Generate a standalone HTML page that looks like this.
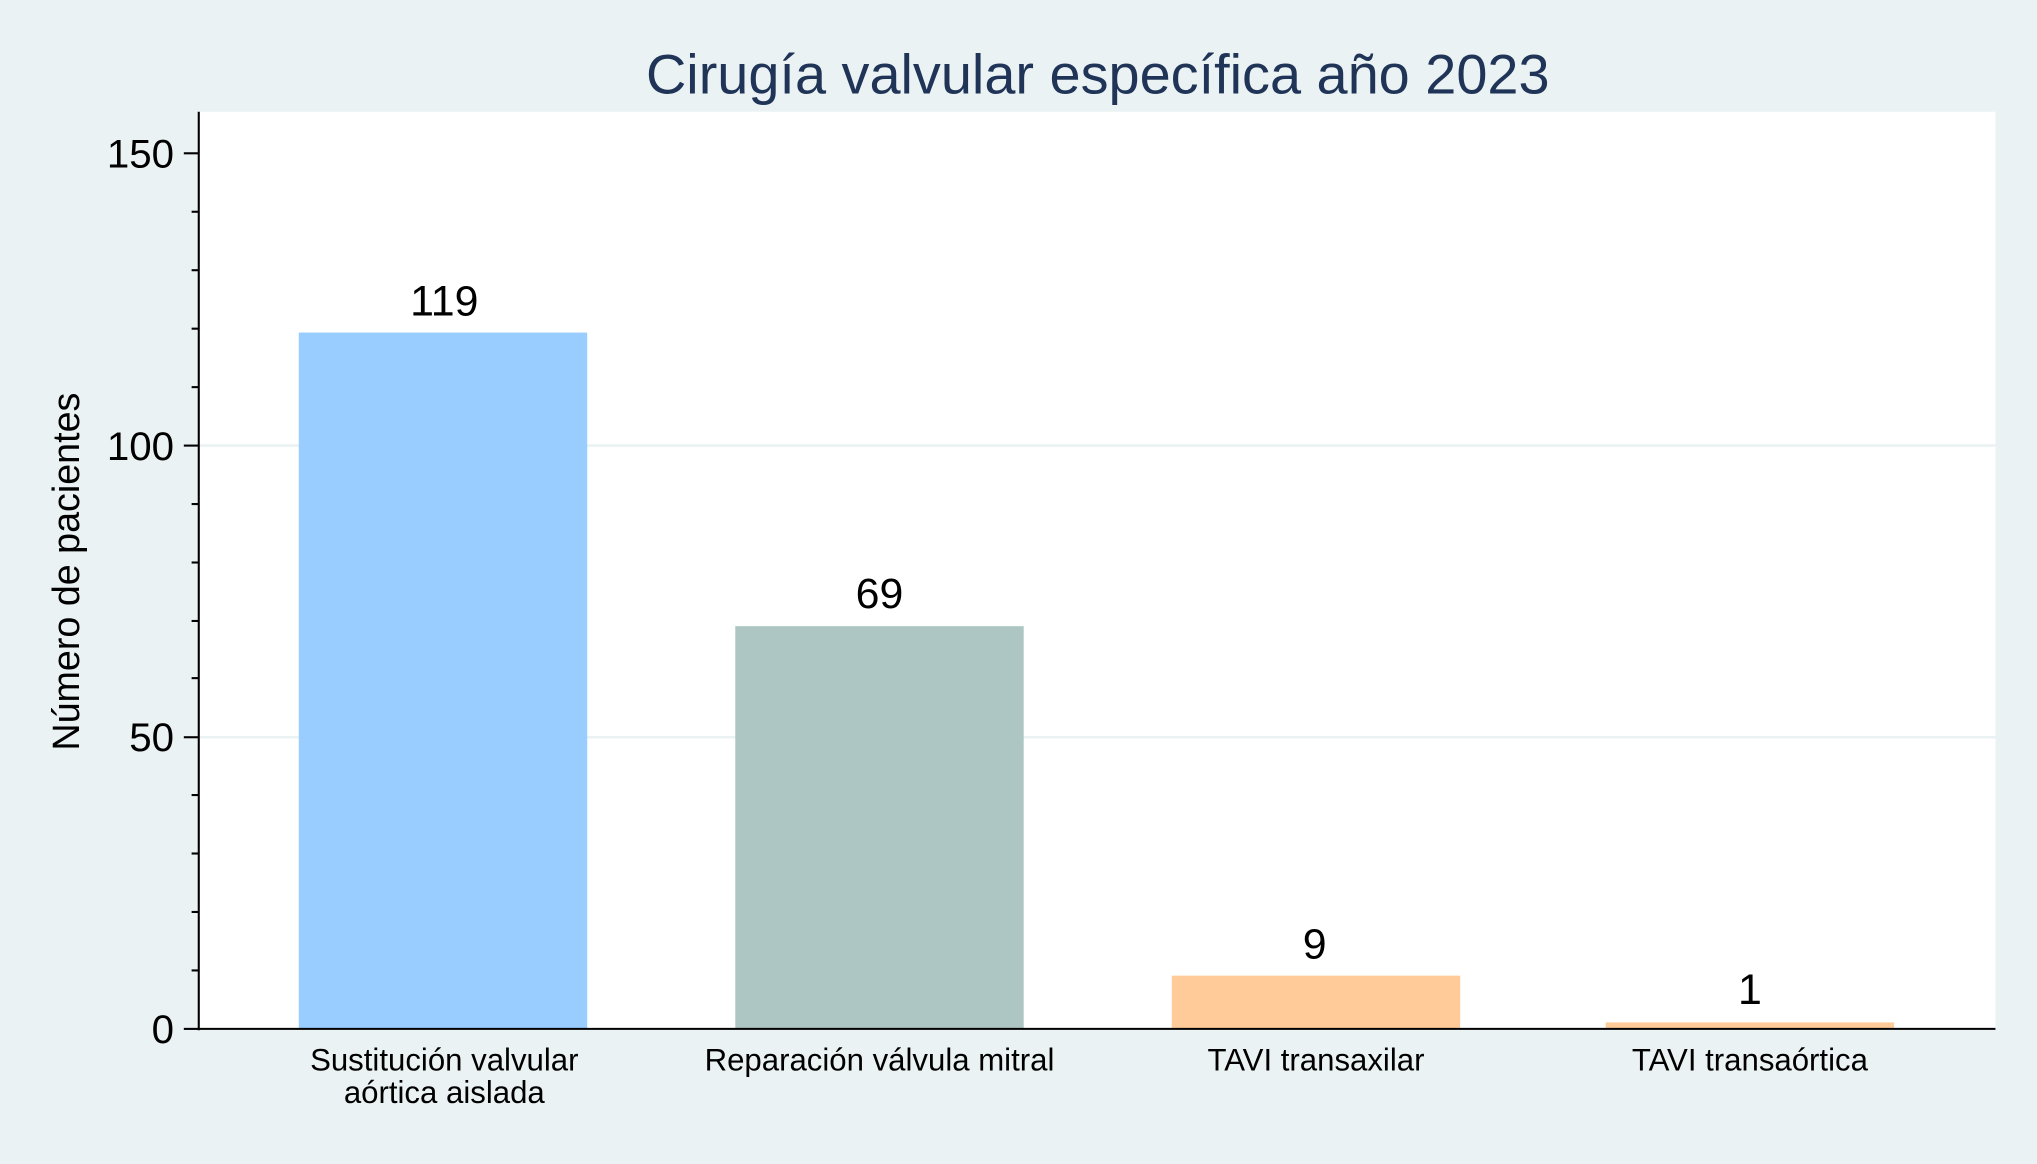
<!DOCTYPE html>
<html><head><meta charset="utf-8"><style>
html,body{margin:0;padding:0;background:#eaf2f3;}
svg{display:block;}
text{font-family:"Liberation Sans",sans-serif;}
</style></head><body>
<svg width="2037" height="1164" viewBox="0 0 1568 896" xmlns="http://www.w3.org/2000/svg">
<rect x="0" y="0" width="1568" height="896" fill="#eaf2f3"/>
<rect x="153" y="86" width="1383" height="706" fill="#ffffff"/>
<line x1="153" x2="1536" y1="343" y2="343" stroke="#eaf2f3" stroke-width="2"/>
<line x1="153" x2="1536" y1="567.5" y2="567.5" stroke="#eaf2f3" stroke-width="2"/>
<text x="845" y="72" font-size="43" fill="#1f3457" text-anchor="middle">Cirugía valvular específica año 2023</text>
<rect x="230" y="256" width="222" height="536" fill="#99ccff"/>
<rect x="566" y="482" width="222" height="310" fill="#adc6c3"/>
<rect x="902" y="751" width="222" height="41" fill="#ffcc99"/>
<rect x="1236" y="787" width="222" height="5" fill="#ffcc99"/>
<g font-size="33" fill="#000" text-anchor="middle">
<text x="342" y="243">119</text>
<text x="677" y="468">69</text>
<text x="1012" y="738">9</text>
<text x="1347" y="773">1</text>
</g>
<g stroke="#000" stroke-width="1.6">
<line x1="153" y1="86" x2="153" y2="793"/>
<line x1="152" y1="792" x2="1536" y2="792"/>
<line x1="141.5" x2="153" y1="118" y2="118"/>
<line x1="141.5" x2="153" y1="343" y2="343"/>
<line x1="141.5" x2="153" y1="567.5" y2="567.5"/>
<line x1="141.5" x2="153" y1="792" y2="792"/>
<line x1="147.5" x2="153" y1="163" y2="163"/>
<line x1="147.5" x2="153" y1="208" y2="208"/>
<line x1="147.5" x2="153" y1="253" y2="253"/>
<line x1="147.5" x2="153" y1="298" y2="298"/>
<line x1="147.5" x2="153" y1="388" y2="388"/>
<line x1="147.5" x2="153" y1="433" y2="433"/>
<line x1="147.5" x2="153" y1="478" y2="478"/>
<line x1="147.5" x2="153" y1="522" y2="522"/>
<line x1="147.5" x2="153" y1="612" y2="612"/>
<line x1="147.5" x2="153" y1="657" y2="657"/>
<line x1="147.5" x2="153" y1="702" y2="702"/>
<line x1="147.5" x2="153" y1="747" y2="747"/>
</g>
<g font-size="31" fill="#000" text-anchor="end">
<text x="134" y="129">150</text>
<text x="134" y="354">100</text>
<text x="134" y="578">50</text>
<text x="134" y="803">0</text>
</g>
<text transform="translate(61,440) rotate(-90)" font-size="29" text-anchor="middle">Número de pacientes</text>
<g font-size="24" fill="#000" text-anchor="middle">
<text x="342" y="824">Sustitución valvular</text>
<text x="342" y="849">aórtica aislada</text>
<text x="677" y="824">Reparación válvula mitral</text>
<text x="1013" y="824">TAVI transaxilar</text>
<text x="1347" y="824">TAVI transaórtica</text>
</g>
</svg>
</body></html>
